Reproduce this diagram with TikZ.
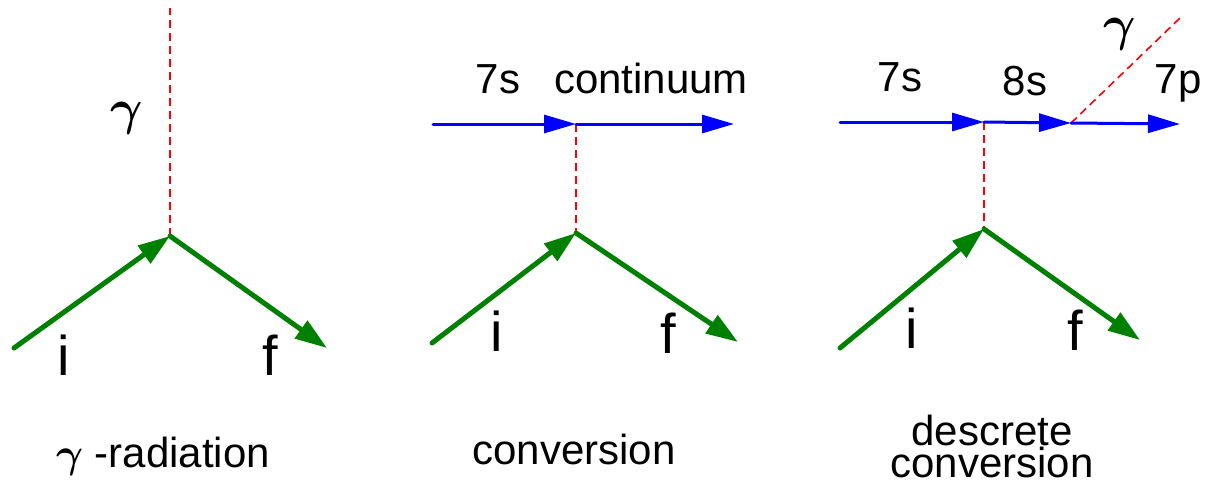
\documentclass[tikz,border=0pt]{standalone}
\usepackage{fontspec}
\setmainfont{Liberation Sans}
\usetikzlibrary{arrows.meta}
\definecolor{fgreen}{RGB}{0,128,0}
\definecolor{fblue}{RGB}{0,0,255}
\definecolor{fred}{RGB}{255,0,0}
\begin{document}
\begin{tikzpicture}[x=0.5pt,y=-0.5pt,
  garrow/.style={draw=fgreen, line width=2.5pt, line cap=round, -{Triangle[length=16pt,width=10.5pt]}},
  barrow/.style={draw=fblue, line width=1.5pt, line cap=round, -{Triangle[length=16pt,width=9pt]}},
  photon/.style={draw=fred, line width=0.8pt, dash pattern=on 4pt off 2.5pt},
  lbl/.style={inner sep=0pt, anchor=base, font=\fontsize{21}{25}\selectfont},
  big/.style={inner sep=0pt, anchor=base, font=\fontsize{28}{32}\selectfont},
  gam/.style={inner sep=0pt, font=\fontsize{26}{30}\selectfont\boldmath}
]
\useasboundingbox (0,0) rectangle (1206,489);

% ---------- panel 1: gamma radiation ----------
\coordinate (v1) at (170,236);
\coordinate (i1) at (14,348);
\coordinate (f1) at (327,348);
\coordinate (g1) at (170,8);
\draw[photon] (v1) -- (g1);
\draw[garrow] (i1) -- (v1);
\draw[garrow] (v1) -- (f1);
\node[gam] (gl1) at (127,118) {$\gamma$};
\node[big] (il1) at (64,375) {i};
\node[big] (fl1) at (270,375) {f};
\node[lbl] (cap1) at (163,467) {{\boldmath$\gamma$} -radiation};

% ---------- panel 2: conversion ----------
\coordinate (a2) at (433,124);
\coordinate (m2) at (576,124);
\coordinate (b2) at (734,124);
\coordinate (v2) at (576,233);
\coordinate (i2) at (432,343);
\coordinate (f2) at (738,342);
\draw[photon] (m2) -- (v2);
\draw[barrow] (a2) -- (m2);
\draw[barrow] (m2) -- (b2);
\draw[garrow] (i2) -- (v2);
\draw[garrow] (v2) -- (f2);
\node[lbl] (s72) at (498,93) {7s};
\node[lbl] (cont) at (651,93) {continuum};
\node[big] (il2) at (497,351) {i};
\node[big] (fl2) at (668,353) {f};
\node[lbl] (cap2) at (574,464) {conversion};

% ---------- panel 3: descrete conversion ----------
\coordinate (a3) at (840,122);
\coordinate (m3) at (984,122);
\coordinate (n3) at (1071,123);
\coordinate (b3) at (1180,124);
\coordinate (g3) at (1180,18);
\coordinate (v3) at (984,229);
\coordinate (i3) at (840,348);
\coordinate (f3) at (1140,340);
\draw[photon] (m3) -- (v3);
\draw[photon] (n3) -- (g3);
\draw[barrow] (a3) -- (m3);
\draw[barrow] (m3) -- (n3);
\draw[barrow] (n3) -- (b3);
\draw[garrow] (i3) -- (v3);
\draw[garrow] (v3) -- (f3);
\node[lbl] (s73) at (900,91) {7s};
\node[lbl] (s83) at (1025,95) {8s};
\node[lbl] (p73) at (1178,93) {7p};
\node[gam] (gl3) at (1120,34) {$\gamma$};
\node[big] (il3) at (912,348) {i};
\node[big] (fl3) at (1075,350) {f};
\node[inner sep=0pt, anchor=north, align=center, font=\fontsize{21}{16}\selectfont]
  (cap3) at (992,415) {descrete\\conversion};
\end{tikzpicture}
\end{document}
